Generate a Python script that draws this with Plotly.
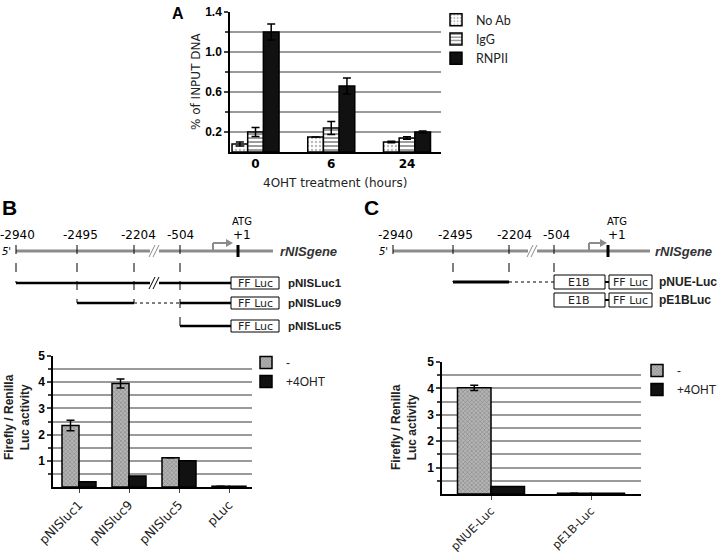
import plotly.graph_objects as go

# ---------------- Panel A data ----------------
a_groups = ["0", "6", "24"]
a_noab = [0.08, 0.15, 0.10]
a_noab_err = [0.02, 0.0, 0.008]
a_igg = [0.20, 0.24, 0.14]
a_igg_err = [0.045, 0.065, 0.012]
a_rnp = [1.20, 0.66, 0.20]
a_rnp_err = [0.08, 0.08, 0.01]

# ---------------- Panel B data ----------------
b_constructs = ["pNISluc1", "pNISluc9", "pNISluc5", "pLuc"]
b_ctrl = [2.35, 3.95, 1.12, 0.03]
b_ctrl_err = [0.2, 0.17, 0.0, 0.0]
b_oht = [0.2, 0.42, 1.0, 0.03]

# ---------------- Panel C data ----------------
c_constructs = ["pNUE-Luc", "pE1B-Luc"]
c_ctrl = [4.02, 0.03]
c_ctrl_err = [0.1, 0.0]
c_oht = [0.28, 0.03]

# schematic labels
coord_labels = ["-2940", "-2495", "-2204", "-504"]
b_plasmids = ["pNISLuc1", "pNISLuc9", "pNISLuc5"]
c_plasmids = ["pNUE-Luc", "pE1BLuc"]

W, H = 720, 552
fig = go.Figure()

pat_dots = dict(shape=".", fgcolor="#777", bgcolor="white", size=4, solidity=0.3)
pat_lines = dict(shape="-", fgcolor="#222", bgcolor="white", size=4, solidity=0.45)
pat_gray = dict(shape="x", fgcolor="#555", bgcolor="#b4b4b4", size=3, solidity=0.35)
err = lambda arr: dict(type="data", array=arr, color="black", thickness=1.5, width=4)
outline = dict(color="black", width=1.5)

# Panel A bars
xa = list(range(len(a_groups)))
wa = 0.207
fig.add_trace(go.Bar(x=xa, y=a_noab, width=wa, offset=-1.5 * wa, name="No Ab",
                     marker=dict(color="white", line=outline, pattern=pat_dots),
                     error_y=err(a_noab_err), xaxis="x", yaxis="y", legend="legend"))
fig.add_trace(go.Bar(x=xa, y=a_igg, width=wa, offset=-0.5 * wa, name="IgG",
                     marker=dict(color="white", line=outline, pattern=pat_lines),
                     error_y=err(a_igg_err), xaxis="x", yaxis="y", legend="legend"))
fig.add_trace(go.Bar(x=xa, y=a_rnp, width=wa, offset=0.5 * wa, name="RNPII",
                     marker=dict(color="#111", line=outline),
                     error_y=err(a_rnp_err), xaxis="x", yaxis="y", legend="legend"))

# Panel B bars
xb = list(range(len(b_constructs)))
wb = 0.34
fig.add_trace(go.Bar(x=xb, y=b_ctrl, width=wb, offset=-wb, name="-",
                     marker=dict(color="#b4b4b4", line=outline, pattern=pat_gray),
                     error_y=err(b_ctrl_err), xaxis="x2", yaxis="y2", legend="legend2"))
fig.add_trace(go.Bar(x=xb, y=b_oht, width=wb, offset=0, name="+4OHT",
                     marker=dict(color="#111", line=outline),
                     xaxis="x2", yaxis="y2", legend="legend2"))

# Panel C bars
xc = list(range(len(c_constructs)))
wc = 0.335
fig.add_trace(go.Bar(x=xc, y=c_ctrl, width=wc, offset=-wc, name="-",
                     marker=dict(color="#b4b4b4", line=outline, pattern=pat_gray),
                     error_y=err(c_ctrl_err), xaxis="x3", yaxis="y3", legend="legend3"))
fig.add_trace(go.Bar(x=xc, y=c_oht, width=wc, offset=0, name="+4OHT",
                     marker=dict(color="#111", line=outline),
                     xaxis="x3", yaxis="y3", legend="legend3"))

# overlay axis for schematic (pixel coordinates)
fig.add_trace(go.Scatter(x=[0], y=[0], mode="markers", marker=dict(opacity=0),
                         showlegend=False, hoverinfo="skip", xaxis="x4", yaxis="y4"))

def dom_x(a, b):
    return [a / W, b / W]

def dom_y(top, bottom):
    return [1 - bottom / H, 1 - top / H]

grid = "#9a9a9a"
tf_bold = dict(family="Liberation Sans", size=12, color="black", weight="bold")
rot_font = dict(family="DejaVu Sans", size=12.5, color="#222")
rot_font_c = dict(family="DejaVu Sans", size=11.5, color="#222")

def yax(dom, rng, anchor, major, minor_vals, ticktext=None):
    d = dict(domain=dom, range=rng, anchor=anchor, tickvals=major,
             showline=True, linecolor="black", linewidth=1.5, ticks="outside",
             ticklen=4, tickwidth=1.5, showgrid=True, gridcolor=grid, gridwidth=1.5,
             zeroline=False, tickfont=tf_bold, automargin=False, fixedrange=True,
             minor=dict(tickvals=minor_vals, ticks="outside", ticklen=3,
                        showgrid=True, gridcolor=grid, gridwidth=1.5))
    if ticktext is not None:
        d["ticktext"] = ticktext
    return d

def xax(dom, rng, anchor, vals, text, font, angle=0, ticks=""):
    return dict(domain=dom, range=rng, anchor=anchor, tickvals=vals, ticktext=text,
                tickangle=angle, showline=True, linecolor="black", linewidth=1.5,
                showgrid=False, zeroline=False, ticks=ticks, ticklen=4, tickwidth=1,
                tickfont=font, automargin=False, fixedrange=True)

fig.update_layout(
    width=W, height=H, margin=dict(l=0, r=0, t=0, b=0, autoexpand=False),
    paper_bgcolor="white", plot_bgcolor="rgba(0,0,0,0)", barmode="overlay",
    xaxis=xax(dom_x(230, 441), [-0.337, 2.449], "y", xa, a_groups,
              dict(family="DejaVu Sans", size=12, color="black", weight="bold")),
    yaxis=yax(dom_y(12, 152), [0, 1.4], "x", [0.2, 0.6, 1.0, 1.4], [0.4, 0.8, 1.2],
              ["0.2", "0.6", "1.0", "1.4"]),
    xaxis2=xax(dom_x(53, 252), [-0.52, 3.46], "y2", xb, b_constructs, rot_font, -45, "outside"),
    yaxis2=yax(dom_y(356, 487), [0, 5], "x2", [1, 2, 3, 4, 5], [0.5, 1.5, 2.5, 3.5, 4.5]),
    xaxis3=xax(dom_x(442, 641), [-0.49, 1.5], "y3", xc, c_constructs, rot_font_c, -45, "outside"),
    yaxis3=yax(dom_y(362, 494), [0, 5], "x3", [1, 2, 3, 4, 5], [0.5, 1.5, 2.5, 3.5, 4.5]),
    xaxis4=dict(domain=[0, 1], range=[0, W], anchor="y4", visible=False, fixedrange=True,
                automargin=False),
    yaxis4=dict(domain=[0, 1], range=[H, 0], anchor="x4", visible=False, fixedrange=True,
                automargin=False),
    legend=dict(x=436 / W, y=1 - 5 / H, xanchor="left", yanchor="top",
                font=dict(family="Lato", size=12.5, color="#222"), bgcolor="rgba(0,0,0,0)",
                tracegroupgap=0, itemwidth=30),
    legend2=dict(x=246 / W, y=1 - 348 / H, xanchor="left", yanchor="top",
                 font=dict(family="Liberation Sans", size=12, color="#222"),
                 bgcolor="rgba(0,0,0,0)", itemwidth=30),
    legend3=dict(x=637 / W, y=1 - 356 / H, xanchor="left", yanchor="top",
                 font=dict(family="Liberation Sans", size=12, color="#222"),
                 bgcolor="rgba(0,0,0,0)", itemwidth=30),
    showlegend=True,
)

shapes = []
annos = []

def line(x0, y0, x1, y1, color="black", width=1, dash="solid"):
    shapes.append(dict(type="line", xref="x4", yref="y4", x0=x0, y0=y0, x1=x1, y1=y1,
                       line=dict(color=color, width=width, dash=dash), layer="above"))

def rect(x0, y0, x1, y1, fill="white", color="black", width=1):
    shapes.append(dict(type="rect", xref="x4", yref="y4", x0=x0, y0=y0, x1=x1, y1=y1,
                       fillcolor=fill, line=dict(color=color, width=width), layer="above"))

def text(x, y, s, size=12, family="DejaVu Sans", anchor="center", color="black",
         angle=0, weight="normal", style="normal"):
    annos.append(dict(xref="x4", yref="y4", x=x, y=y, text=s, showarrow=False,
                      xanchor=anchor, yanchor="middle", textangle=angle,
                      font=dict(size=size, family=family, color=color, weight=weight,
                                style=style)))

def brk(x, y, color):
    line(x - 5, y, x + 4, y, color="white", width=5)
    line(x - 6, y + 6, x, y - 6, color=color, width=1)
    line(x - 2, y + 6, x + 4, y - 6, color=color, width=1)

GRAY = "#8c8c8c"

# ---- Schematic B ----
for lab, cx in zip(coord_labels, [17, 80, 138, 180]):
    text(cx, 235, lab, size=12)
line(16, 251, 273, 251, GRAY, 3)
brk(155, 251, GRAY)
line(213, 251, 213, 243, GRAY, 2)
line(213, 243, 227, 243, GRAY, 2)
shapes.append(dict(type="path", xref="x4", yref="y4", path="M 226 239 L 233 243 L 226 247 Z",
                   fillcolor=GRAY, line=dict(width=0), layer="above"))
rect(236.5, 245, 239.5, 257, fill="black", width=0)
text(242, 221, "ATG", size=10)
text(242, 235, "+1", size=12)
text(6, 251, "5'", size=10, style="italic")
text(278, 251, "rNISgene", size=13, family="Liberation Sans", anchor="left",
     style="italic", weight="bold", color="#333")
line(16, 245, 16, 283, dash="dash")
line(77, 245, 77, 303, dash="dash")
line(134, 245, 134, 303, dash="dash")
line(180, 245, 180, 326, dash="dash")
# pNISLuc1
line(16, 283, 231, 283, "black", 2.5)
brk(155, 283, "black")
# pNISLuc9
line(77, 303, 134, 303, "black", 2.5)
line(134, 303, 180, 303, "#555", 1.5, "dot")
line(180, 303, 231, 303, "black", 2.5)
# pNISLuc5
line(180, 326, 231, 326, "black", 2.5)
for yy, lab in zip([283, 303, 326], b_plasmids):
    rect(231, yy - 6, 279, yy + 6)
    text(255, yy, "FF Luc", size=11, color="#222")
    text(286, yy, lab, size=11.5, family="Liberation Sans", anchor="left",
         weight="bold", color="#222")

# ---- Schematic C ----
for lab, cx in zip(coord_labels, [395, 455, 514, 556]):
    text(cx, 235, lab, size=12)
line(393, 251, 650, 251, GRAY, 3)
brk(533, 251, GRAY)
line(589, 251, 589, 243, GRAY, 2)
line(589, 243, 601, 243, GRAY, 2)
shapes.append(dict(type="path", xref="x4", yref="y4", path="M 600 239 L 607 243 L 600 247 Z",
                   fillcolor=GRAY, line=dict(width=0), layer="above"))
rect(606.5, 245, 609.5, 257, fill="black", width=0)
text(617, 221, "ATG", size=10)
text(617, 235, "+1", size=12)
text(383, 251, "5'", size=10, style="italic")
text(653, 251, "rNISgene", size=13, family="Liberation Sans", anchor="left",
     style="italic", weight="bold", color="#333")
line(393, 245, 393, 262, dash="dash")
line(453, 245, 453, 282, dash="dash")
line(509, 245, 509, 282, dash="dash")
line(554, 245, 554, 276, dash="dash")
line(453, 282, 509, 282, "black", 3)
line(509, 282, 554, 282, "#555", 1.5, "dot")
for yy, lab in zip([282, 300], c_plasmids):
    rect(554, yy - 7, 605, yy + 7)
    text(579, yy, "E1B", size=11, color="#222")
    line(605, yy, 609, yy, "black", 2)
    rect(609, yy - 7, 652, yy + 7)
    text(630, yy, "FF Luc", size=11, color="#222")
    text(657, yy, lab, size=12, family="Liberation Sans", anchor="left",
         weight="bold", color="#222")

# ---- panel letters and axis titles ----
text(178, 13, "A", size=16, family="Liberation Sans", weight="bold")
text(9, 207, "B", size=21, family="Liberation Sans", weight="bold")
text(371, 207, "C", size=21, family="Liberation Sans", weight="bold")
text(196, 82, "% of INPUT DNA", size=12, angle=-90, color="#222")
text(335, 183, "4OHT treatment (hours)", size=12, color="#222")
text(17, 417, "Firefly / Renilla<br>Luc activity", size=12, family="Liberation Sans",
     angle=-90, weight="bold", color="#222")
text(404, 427, "Firefly / Renilla<br>Luc activity", size=12, family="Liberation Sans",
     angle=-90, weight="bold", color="#222")

fig.update_layout(shapes=shapes, annotations=annos)
fig.write_html("out.html", config={"displayModeBar": False},
               post_script="document.body.style.margin='0';document.body.style.padding='0';")
